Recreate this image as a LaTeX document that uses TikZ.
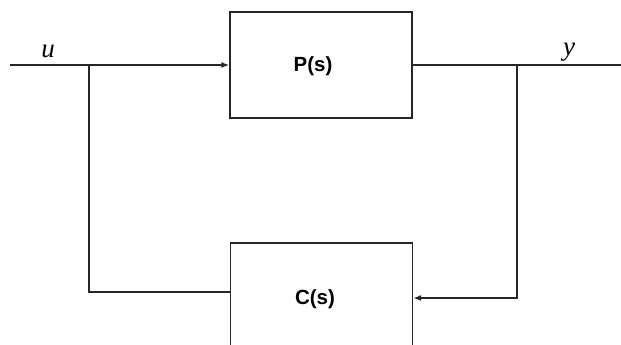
\documentclass[tikz,border=0pt]{standalone}
\usepackage{fontspec}
\setmainfont{Liberation Serif}
\newfontfamily\blockfont{Liberation Sans}
\usetikzlibrary{arrows.meta}
\begin{document}
\begin{tikzpicture}[x=1pt,y=-1pt,
  wire/.style={line width=1.3pt,draw=black!85},
  sig/.style={wire,-{Latex[length=8pt,width=6pt]}},
  block/.style={draw=black!85,line width=1.3pt,minimum width=182pt,minimum height=106pt,inner sep=0pt},
  blocklabel/.style={font=\blockfont\bfseries\fontsize{20.5}{20.5}\selectfont,inner sep=0pt},
  varlabel/.style={font=\fontsize{27}{27}\selectfont\itshape,inner sep=0pt}]
  \useasboundingbox (0,0) rectangle (621,345);
  % plant and controller blocks
  \node[block] (P) at (321,65) {};
  \node[blocklabel] (Plab) at (313,66) {P(s)};
  \node[block] (C) at (321.5,296) {};
  \node[blocklabel] (Clab) at (315,299) {C(s)};
  % branch points and wire ends
  \coordinate (uin) at (10,65);
  \coordinate (ujoin) at (89,65);
  \coordinate (fbl) at (89,292);
  \coordinate (yjoin) at (517,65);
  \coordinate (fbr) at (517,298);
  \coordinate (yout) at (621,65);
  % signals
  \draw[sig] (uin) -- (P.west);
  \draw[wire] (P.east) -- (yout);
  \draw[wire] (ujoin) -- (fbl) -- (fbl -| C.west);
  \draw[sig] (yjoin) -- (fbr) -- (fbr -| C.east);
  % signal names
  \node[varlabel,anchor=base] (ulab) at (48,58) {u};
  \node[varlabel,anchor=base] (ylab) at (569,56) {y};
\end{tikzpicture}
\end{document}
